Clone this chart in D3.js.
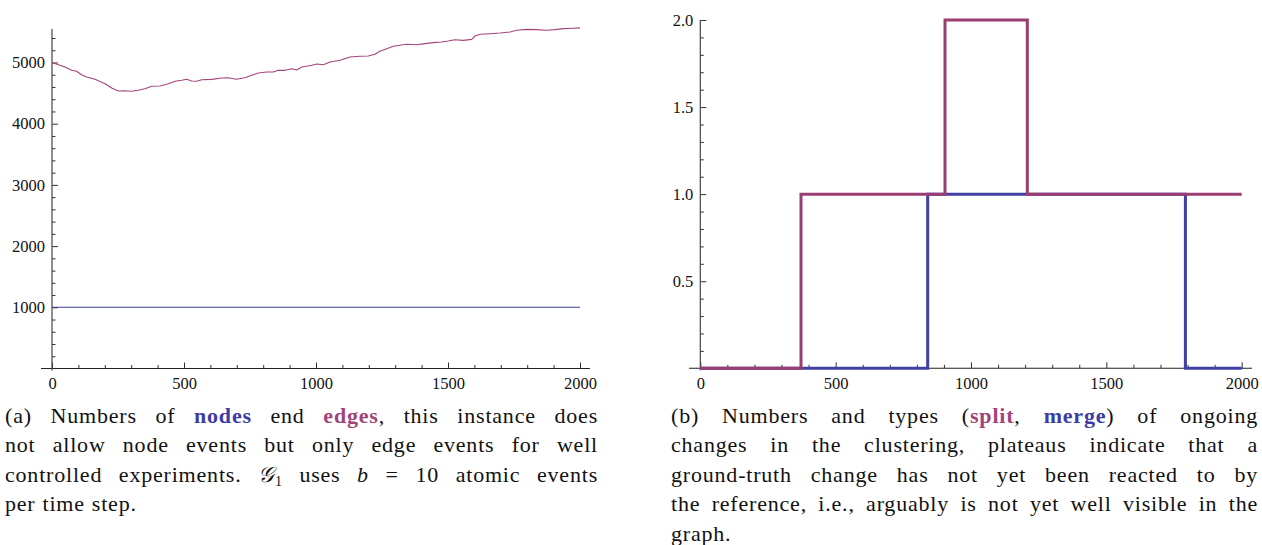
<!DOCTYPE html>
<html>
<head>
<meta charset="utf-8">
<script src="https://cdn.jsdelivr.net/npm/d3@7"></script>
<style>
  html, body { margin: 0; padding: 0; background: #fff; }
  svg { display: block; }
  .tick text { font-family: "Liberation Serif", "Times New Roman", serif; font-size: 16.5px; fill: #111; }
  .tick line { stroke: #333; stroke-width: 1; }
  .caption { font-family: "Liberation Serif", "Times New Roman", serif; font-size: 22px; fill: #111; letter-spacing: 0.8px; }
</style>
</head>
<body>
<svg id="fig" width="1262" height="545"></svg>
<script>
// ---- Panel (a): numbers of nodes and edges per time step ----
const timeSteps = [0, 24, 49, 75, 93, 112, 131, 163, 201, 226, 251, 277, 302, 327, 352, 378, 409, 441, 466, 491,
  510, 529, 548, 567, 605, 643, 668, 699, 731, 756, 782, 813, 838, 857, 883, 908, 927, 946, 984, 1003,
  1028, 1053, 1091, 1129, 1167, 1198, 1223, 1242, 1268, 1293, 1318, 1343, 1381, 1413, 1444, 1476, 1501, 1526, 1558, 1590,
  1602, 1621, 1659, 1697, 1735, 1760, 1798, 1836, 1874, 1905, 1937, 1975, 2000];
const edgeCounts = [5000, 4964, 4927, 4872, 4856, 4801, 4764, 4725, 4654, 4583, 4534, 4539, 4529, 4546, 4572, 4612, 4617, 4654, 4693, 4709,
  4725, 4698, 4693, 4719, 4725, 4747, 4752, 4725, 4752, 4791, 4829, 4845, 4845, 4872, 4872, 4899, 4878, 4927, 4954, 4976,
  4964, 5008, 5036, 5090, 5101, 5106, 5134, 5183, 5226, 5265, 5281, 5297, 5291, 5308, 5324, 5335, 5351, 5372, 5362, 5378,
  5433, 5461, 5471, 5482, 5498, 5526, 5542, 5537, 5526, 5537, 5554, 5560, 5565];
const nodeTimes = [0, 2000];
const nodeCounts = [1000, 1000];
const xTicksA = [0, 500, 1000, 1500, 2000];
const yTicksA = [1000, 2000, 3000, 4000, 5000];

// ---- Panel (b): ongoing split / merge changes ----
const splitTimes = [0, 372, 904, 1208, 2000];
const splitCounts = [0, 1, 2, 1, 1];
const mergeTimes = [0, 840, 1792, 2000];
const mergeCounts = [0, 1, 0, 0];
const xTicksB = [0, 500, 1000, 1500, 2000];
const yTicksB = [0.5, 1.0, 1.5, 2.0];

const BLUE = "#3d3d99";
const MAGENTA = "#993d71";

const svg = d3.select("#fig");

function minorBetween(start, stop, step, majorStep) {
  return d3.range(start, stop + step / 2, step).filter(v => Math.abs(v / majorStep - Math.round(v / majorStep)) > 1e-6);
}

function drawAxes(g, x, y, opts) {
  // minor ticks
  g.append("g").attr("transform", `translate(0,${y(0)})`)
    .call(d3.axisBottom(x).tickValues(opts.xMinor).tickSize(-3.5).tickFormat(() => ""))
    .call(a => a.select(".domain").remove());
  g.append("g").attr("transform", `translate(${x(0)},0)`)
    .call(d3.axisLeft(y).tickValues(opts.yMinor).tickSize(-3.5).tickFormat(() => ""))
    .call(a => a.select(".domain").remove());
  // major ticks with labels
  g.append("g").attr("transform", `translate(0,${y(0)})`)
    .call(d3.axisBottom(x).tickValues(opts.xTicks).tickSize(-6).tickPadding(9).tickFormat(d3.format("d")))
    .call(a => a.select(".domain").remove());
  g.append("g").attr("transform", `translate(${x(0)},0)`)
    .call(d3.axisLeft(y).tickValues(opts.yTicks).tickSize(-6).tickPadding(7).tickFormat(opts.yFormat))
    .call(a => a.select(".domain").remove());
  // axis lines
  g.append("line").attr("x1", opts.xLineFrom).attr("x2", opts.xLineTo)
    .attr("y1", y(0)).attr("y2", y(0)).attr("stroke", "#222").attr("stroke-width", 1.1);
  g.append("line").attr("x1", x(0)).attr("x2", x(0))
    .attr("y1", opts.yLineTop).attr("y2", y(0) + 2).attr("stroke", "#444").attr("stroke-width", 1.2);
}

// ---------- Panel (a) ----------
{
  const x = d3.scaleLinear().domain([0, 2000]).range([52, 580]);
  const y = d3.scaleLinear().domain([0, 5565]).range([368.5, 368.5 - 5565 * 0.0612]);
  const g = svg.append("g");
  drawAxes(g, x, y, {
    xTicks: xTicksA, yTicks: yTicksA,
    xMinor: minorBetween(100, 1900, 100, 500),
    yMinor: minorBetween(200, 5400, 200, 1000),
    yFormat: d3.format("d"),
    xLineFrom: 41, xLineTo: 590, yLineTop: 29
  });
  const line = d3.line().x(d => x(d[0])).y(d => y(d[1]));
  g.append("path").datum(d3.zip(nodeTimes, nodeCounts))
    .attr("d", line).attr("fill", "none").attr("stroke", BLUE).attr("stroke-width", 1.1);
  g.append("path").datum(d3.zip(timeSteps, edgeCounts))
    .attr("d", line).attr("fill", "none").attr("stroke", "#a2457a").attr("stroke-width", 1.1)
    .attr("stroke-linejoin", "round");
}

// ---------- Panel (b) ----------
{
  const x = d3.scaleLinear().domain([0, 2000]).range([700.3, 1241.7]);
  const y = d3.scaleLinear().domain([0, 2]).range([368.3, 20]);
  const g = svg.append("g");
  drawAxes(g, x, y, {
    xTicks: xTicksB, yTicks: yTicksB,
    xMinor: minorBetween(100, 1900, 100, 500),
    yMinor: minorBetween(0.1, 1.9, 0.1, 0.5),
    yFormat: d3.format(".1f"),
    xLineFrom: 689, xLineTo: 1252, yLineTop: 20
  });
  const step = d3.line().x(d => x(d[0])).y(d => y(d[1])).curve(d3.curveStepAfter);
  g.append("path").datum(d3.zip(mergeTimes, mergeCounts))
    .attr("d", step).attr("fill", "none").attr("stroke", "#3f3fa6").attr("stroke-width", 3);
  g.append("path").datum(d3.zip(splitTimes, splitCounts))
    .attr("d", step).attr("fill", "none").attr("stroke", "#9b3c72").attr("stroke-width", 3);
}

// ---------- Captions (justified lines) ----------
// Runs: plain text, {b:"..."} bold blue, {m:"..."} bold magenta, {i:"..."} italic, {c:"..."} script, {s:"..."} subscript
const captionA = [
  ["(a)", "Numbers", "of", [{b: "nodes"}], "end", [{m: "edges"}, ","], "this", "instance", "does"],
  ["not", "allow", "node", "events", "but", "only", "edge", "events", "for", "well"],
  ["controlled", "experiments.", [{c: "\u{1D4A2}"}, {s: "1"}], "uses", [{i: "b"}], "=", "10", "atomic", "events"],
  ["per", "time", "step."]
];
const captionB = [
  ["(b)", "Numbers", "and", "types", ["(", {m: "split"}, ","], [{b: "merge"}, ")"], "of", "ongoing"],
  ["changes", "in", "the", "clustering,", "plateaus", "indicate", "that", "a"],
  ["ground-truth", "change", "has", "not", "yet", "been", "reacted", "to", "by"],
  ["the", "reference,", "i.e.,", "arguably", "is", "not", "yet", "well", "visible", "in", "the"],
  ["graph."]
];

function drawCaption(lines, left, right, baseline0, lineGap) {
  const g = svg.append("g").attr("class", "caption");
  lines.forEach((words, li) => {
    const yb = baseline0 + li * lineGap;
    const nodes = words.map(w => {
      const t = g.append("text").attr("y", yb);
      const runs = Array.isArray(w) ? w : [w];
      runs.forEach(r => {
        if (typeof r === "string") { t.append("tspan").text(r); return; }
        if (r.b) t.append("tspan").attr("font-weight", "bold").attr("fill", "#3c3ca3").text(r.b);
        if (r.m) t.append("tspan").attr("font-weight", "bold").attr("fill", "#9e4579").text(r.m);
        if (r.i) t.append("tspan").attr("font-style", "italic").text(r.i);
        if (r.c) t.append("tspan").attr("font-family", "'DejaVu Serif', serif").attr("font-style", "italic").text(r.c);
        if (r.s) t.append("tspan").attr("font-size", "14px").attr("dy", 4).text(r.s);
      });
      return t;
    });
    const widths = nodes.map(n => n.node().getComputedTextLength());
    const total = d3.sum(widths);
    const last = li === lines.length - 1;
    const gap = (last || nodes.length < 2) ? 7 : (right - left - total) / (nodes.length - 1);
    let xpos = left;
    nodes.forEach((n, k) => { n.attr("x", xpos); xpos += widths[k] + gap; });
  });
}

drawCaption(captionA, 5, 598, 423, 29.4);
drawCaption(captionB, 671, 1258, 423, 29.4);
</script>
</body>
</html>
